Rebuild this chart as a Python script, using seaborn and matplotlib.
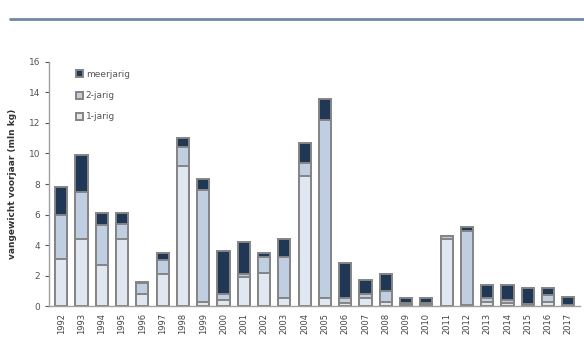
import matplotlib
matplotlib.use("Agg")
import matplotlib.pyplot as plt
import seaborn as sns
import pandas as pd
import numpy as np

years = [str(y) for y in range(1992, 2018)]
eenjarig = [3.1, 4.4, 2.7, 4.4, 0.8, 2.1, 9.2, 0.3, 0.4, 1.9, 2.2, 0.5, 8.5,
            0.5, 0.2, 0.5, 0.3, 0.1, 0.1, 4.4, 0.05, 0.3, 0.2, 0.1, 0.3, 0.05]
tweejarig = [2.9, 3.1, 2.6, 1.0, 0.7, 0.9, 1.2, 7.3, 0.4, 0.2, 1.0, 2.7, 0.9,
             11.7, 0.3, 0.3, 0.7, 0.1, 0.1, 0.2, 4.85, 0.2, 0.2, 0.05, 0.4, 0.05]
meerjarig = [1.8, 2.4, 0.8, 0.7, 0.1, 0.5, 0.6, 0.7, 2.8, 2.1, 0.3, 1.2, 1.3,
             1.4, 2.3, 0.9, 1.1, 0.3, 0.3, 0.0, 0.3, 0.9, 1.0, 1.05, 0.5, 0.5]

df = pd.DataFrame({"jaar": years, "1-jarig": eenjarig,
                   "2-jarig": tweejarig, "meerjarig": meerjarig})
df["tot2"] = df["1-jarig"] + df["2-jarig"]
df["tot"] = df["tot2"] + df["meerjarig"]

c_meer = "#17375e"
c_twee = "#b9cde5"
c_een = "#dde7f3"
edge = "#858585"

sns.set_style("white")
fig = plt.figure(figsize=(5.84, 3.58), dpi=100)
ax = fig.add_axes([0.084, 0.145, 0.91, 0.682])

common = dict(x="jaar", ax=ax, width=0.6, edgecolor=edge, linewidth=1.4)
sns.barplot(data=df, y="tot", color=c_meer, label="meerjarig", **common)
sns.barplot(data=df, y="tot2", color=c_twee, label="2-jarig", **common)
sns.barplot(data=df, y="1-jarig", color=c_een, label="1-jarig", **common)

ax.set_ylim(0, 16)
ax.set_xlim(-0.6, 25.6)
ax.set_yticks(range(0, 17, 2))
ax.set_xlabel("")
ax.set_ylabel("vangewicht voorjaar (mln kg)", fontsize=6.5, fontweight="bold",
              color="#333333", labelpad=8)
ax.tick_params(axis="y", labelsize=6.5, colors="#555555", length=3, width=0.8,
               direction="out", left=True)
ax.tick_params(axis="x", labelsize=6, colors="#444444", rotation=90, length=0,
               pad=5)

for s in ["top", "right"]:
    ax.spines[s].set_visible(False)
for s in ["left", "bottom"]:
    ax.spines[s].set_color("#a0a0a0")
    ax.spines[s].set_linewidth(1.0)

leg = ax.legend(loc="upper left", bbox_to_anchor=(0.035, 1.0), frameon=False,
                fontsize=6.5, handlelength=0.8, handleheight=0.8,
                labelspacing=1.35, handletextpad=0.3)
for t in leg.get_texts():
    t.set_color("#555555")

# decorative rule above the chart
fig.add_artist(plt.Line2D([10 / 584, 1.0], [1 - 19 / 358, 1 - 19 / 358],
                          color="#6f88a6", linewidth=2.0))

fig.savefig("out.png", dpi=100)
